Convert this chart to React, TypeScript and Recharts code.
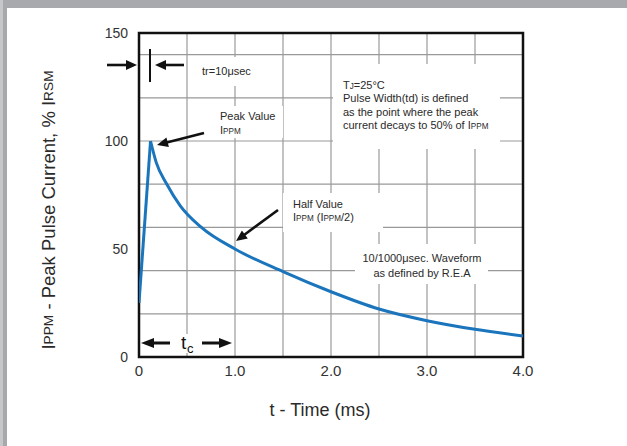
import React from "react";
import {
  LineChart,
  Line,
  XAxis,
  YAxis,
  CartesianGrid,
  ReferenceArea,
} from "recharts";

// waveform (time in ms, current in % of IRSM)
const riseTime = [0, 0.12];
const riseCurrent = [25, 100];
const decayTime = [0.12, 0.18, 0.29, 0.43, 0.65, 1.0, 1.5, 2.0, 2.5, 3.0, 3.5, 4.0];
const decayCurrent = [100, 90, 80, 70, 60, 50, 39.5, 30.2, 22.2, 16.8, 12.8, 9.7];

const xTicks = [0, 1, 2, 3, 4];
const xTickLabels = ["0", "1.0", "2.0", "3.0", "4.0"];
const yTicks = [0, 50, 100, 150];
const xGridValues = [0.5, 1, 1.5, 2, 2.5, 3, 3.5];
const yGridValues = [10, 20, 30, 40, 50, 60, 70, 80, 90, 100, 110, 120, 130, 140];

const riseData = riseTime.map((t, i) => ({ t, v: riseCurrent[i] }));
const decayData = decayTime.map((t, i) => ({ t, v: decayCurrent[i] }));

const W = 627;
const H = 446;
const FONT = "'Liberation Sans', Arial, Helvetica, sans-serif";
const BLUE = "#1b75bc";
const TEXT = "#2a2a2a";

function Arrow({ x1, y1, x2, y2, w = 2.6, head = 11, half = 5 }: any) {
  // tail (x1,y1) -> tip (x2,y2)
  const dx = x2 - x1;
  const dy = y2 - y1;
  const len = Math.sqrt(dx * dx + dy * dy);
  const ux = dx / len;
  const uy = dy / len;
  const bx = x2 - ux * head;
  const by = y2 - uy * head;
  const px = -uy * half;
  const py = ux * half;
  return (
    <g>
      <line x1={x1} y1={y1} x2={bx + ux} y2={by + uy} stroke="#111" strokeWidth={w} />
      <polygon
        points={`${x2},${y2} ${bx + px},${by + py} ${bx - px},${by - py}`}
        fill="#111"
      />
    </g>
  );
}

function Small({ children }: any) {
  return <tspan fontSize="0.74em">{children}</tspan>;
}

function Annotations() {
  return (
    <svg
      width={W}
      height={H}
      style={{ position: "absolute", left: 0, top: 0, pointerEvents: "none" }}
      fontFamily={FONT}
    >
      {/* grey page frame */}
      <rect x={0} y={0} width={W} height={8} fill="#a7a9ac" />
      <rect x={0} y={0} width={3} height={H} fill="#c6c7c9" />
      <rect x={3} y={8} width={4} height={H - 8} fill="#a7a9ac" />

      {/* white label boxes over the grid */}
      <rect x={193} y={57} width={64} height={29} fill="#fff" />
      <rect x={212} y={106} width={71} height={32} fill="#fff" />
      <rect x={333} y={64} width={167} height={85} fill="#fff" />
      <rect x={283} y={193} width={100} height={39} fill="#fff" />
      <rect x={355} y={244} width={133} height={40} fill="#fff" />
      <rect x={177} y={334} width={20} height={19} fill="#fff" />

      {/* tr marker */}
      <Arrow x1={107} y1={65} x2={137} y2={65} />
      <line x1={150} y1={49} x2={150} y2={82} stroke="#111" strokeWidth={2} />
      <Arrow x1={184} y1={65} x2={155} y2={65} />
      <text x={202} y={75} fontSize={11} fill={TEXT}>
        tr=10μsec
      </text>

      {/* peak value */}
      <text x={220} y={120} fontSize={11} fill={TEXT}>
        Peak Value
      </text>
      <text x={220} y={134} fontSize={11} fill={TEXT}>
        I<Small>PPM</Small>
      </text>
      <Arrow x1={204} y1={133} x2={157} y2={145} />

      {/* conditions */}
      <g fontSize={11} fill={TEXT}>
        <text x={343} y={89}>
          T<Small>J</Small>=25°C
        </text>
        <text x={343} y={102}>Pulse Width(td) is defined</text>
        <text x={343} y={115.5}>as the point where the peak</text>
        <text x={343} y={129}>
          current decays to 50% of I<Small>PPM</Small>
        </text>
      </g>

      {/* half value */}
      <text x={293} y={208} fontSize={11} fill={TEXT}>
        Half Value
      </text>
      <text x={293} y={221} fontSize={11} fill={TEXT}>
        I<Small>PPM</Small> (I<Small>PPM</Small>/2)
      </text>
      <Arrow x1={278} y1={210} x2={236} y2={241} />

      {/* waveform note */}
      <g fontSize={11} fill={TEXT} textAnchor="middle">
        <text x={422} y={262}>10/1000μsec. Waveform</text>
        <text x={422} y={276.5}>as defined by R.E.A</text>
      </g>

      {/* tc */}
      <Arrow x1={170} y1={343} x2={141} y2={343} w={3} head={13} half={5} />
      <Arrow x1={202} y1={343} x2={232} y2={343} w={3} head={13} half={5} />
      <text x={181} y={349} fontSize={19} fill="#111">
        t
      </text>
      <text x={187} y={353} fontSize={13} fill="#111">
        c
      </text>
    </svg>
  );
}

function YTitle() {
  return (
    <text
      x={48}
      y={210}
      transform="rotate(-90 48 210)"
      textAnchor="middle"
      dominantBaseline="central"
      fontSize={18.5}
      fill={TEXT}
      fontFamily={FONT}
    >
      I<Small>PPM</Small> - Peak Pulse Current, % I<Small>RSM</Small>
    </text>
  );
}

function XTitle() {
  return (
    <text
      x={320}
      y={410}
      textAnchor="middle"
      dominantBaseline="central"
      fontSize={18}
      fill={TEXT}
      fontFamily={FONT}
    >
      t - Time (ms)
    </text>
  );
}

export default function App() {
  return (
    <div
      style={{
        position: "absolute",
        left: 0,
        top: 0,
        width: W,
        height: H,
        background: "#fff",
        overflow: "hidden",
        fontFamily: FONT,
      }}
    >
      <div style={{ position: "absolute", left: 0, top: 0 }}>
        <LineChart
          width={W}
          height={H}
          margin={{ top: 33, right: 104, bottom: 29, left: 0 }}
        >
          <CartesianGrid
            stroke="#999"
            strokeWidth={1.2}
            horizontalValues={yGridValues}
            verticalValues={xGridValues}
          />
          <XAxis
            type="number"
            dataKey="t"
            domain={[0, 4]}
            ticks={xTicks}
            tickFormatter={(v: number) => xTickLabels[xTicks.indexOf(v)]}
            tickLine={false}
            axisLine={false}
            height={60}
            tick={{ fontSize: 15, fill: "#333", fontFamily: FONT }}
            allowDataOverflow
            label={{ content: XTitle }}
          />
          <YAxis
            type="number"
            domain={[0, 150]}
            ticks={yTicks}
            tickLine={false}
            axisLine={false}
            width={139}
            tickMargin={5}
            tick={{ fontSize: 14, fill: "#333", fontFamily: FONT }}
            allowDataOverflow
            label={{ content: YTitle }}
          />
          <Line
            data={riseData}
            dataKey="v"
            type="linear"
            stroke={BLUE}
            strokeWidth={3}
            dot={false}
            isAnimationActive={false}
          />
          <Line
            data={decayData}
            dataKey="v"
            type="monotone"
            stroke={BLUE}
            strokeWidth={3}
            dot={false}
            isAnimationActive={false}
          />
          <ReferenceArea
            x1={0}
            x2={4}
            y1={0}
            y2={150}
            fill="none"
            fillOpacity={0}
            stroke="#111"
            strokeWidth={2.5}
            ifOverflow="visible"
          />
        </LineChart>
      </div>
      <Annotations />
    </div>
  );
}
